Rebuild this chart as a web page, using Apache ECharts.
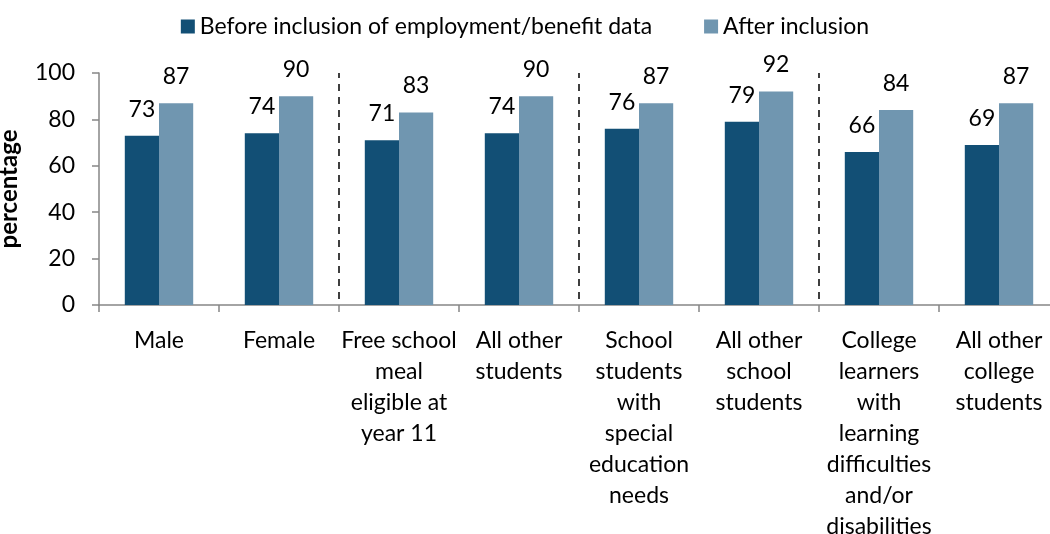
<!DOCTYPE html>
<html>
<head>
<meta charset="utf-8">
<script src="https://cdn.jsdelivr.net/npm/echarts@6/dist/echarts.min.js"></script>
<style>
  html, body { margin: 0; padding: 0; background: #fff; }
  #chart { width: 1050px; height: 534px; }
</style>
</head>
<body>
<div id="chart"></div>
<script>
const categories = [
  'Male',
  'Female',
  'Free school\nmeal\neligible at\nyear 11',
  'All other\nstudents',
  'School\nstudents\nwith\nspecial\neducation\nneeds',
  'All other\nschool\nstudents',
  'College\nlearners\nwith\nlearning\ndifficulties\nand/or\ndisabilities',
  'All other\ncollege\nstudents'
];
const beforeValues = [73, 74, 71, 74, 76, 79, 66, 69];
const afterValues = [87, 90, 83, 90, 87, 92, 84, 87];
const yTicks = [0, 20, 40, 60, 80, 100];
// dashed separators sit on the left boundary of these categories
const groupStarts = [2, 4, 6];

const font = 'Lato, "Open Sans", sans-serif';
const chart = echarts.init(document.getElementById('chart'));

const labelStyle = {
  show: true,
  position: 'top',
  distance: 15,
  color: '#000',
  fontSize: 23,
  fontFamily: font
};

chart.setOption({
  color: ['#124f75', '#7096b0'],
  textStyle: { fontFamily: font },
  legend: {
    top: 10,
    left: 'center',
    itemWidth: 14,
    itemHeight: 14,
    itemGap: 52,
    textStyle: { fontSize: 23, color: '#000', fontFamily: font },
    data: [
      { name: 'Before inclusion of employment/benefit data', icon: 'rect' },
      { name: 'After inclusion', icon: 'rect' }
    ]
  },
  grid: {
    left: 99,
    right: -9,
    top: 73,
    bottom: 229,
    containLabel: false,
    outerBoundsMode: 'none'
  },
  xAxis: {
    type: 'category',
    data: categories,
    axisLine: { lineStyle: { color: '#868686', width: 1.5 } },
    axisTick: { show: true, length: 7, lineStyle: { color: '#868686', width: 1.5 } },
    axisLabel: {
      interval: 0,
      margin: 20,
      color: '#000',
      fontSize: 23,
      lineHeight: 31,
      fontFamily: font
    },
    splitLine: {
      show: true,
      interval: function (index) { return groupStarts.indexOf(index) !== -1; },
      lineStyle: { color: '#000', type: [7, 6], dashOffset: 2, width: 1.5 }
    }
  },
  yAxis: {
    type: 'value',
    min: yTicks[0],
    max: yTicks[yTicks.length - 1],
    interval: yTicks[1] - yTicks[0],
    name: 'percentage',
    nameLocation: 'middle',
    nameGap: 78,
    nameRotate: 90,
    nameTextStyle: { fontSize: 24, fontWeight: 'bold', color: '#000', fontFamily: font },
    axisLine: { show: true, lineStyle: { color: '#868686', width: 1.5 } },
    axisTick: { show: true, length: 7, lineStyle: { color: '#868686', width: 1.5 } },
    axisLabel: { color: '#000', fontSize: 23, margin: 24, fontFamily: font },
    splitLine: { show: false }
  },
  series: [
    {
      name: 'Before inclusion of employment/benefit data',
      type: 'bar',
      data: beforeValues,
      barGap: '0%',
      barCategoryGap: '43%',
      label: labelStyle
    },
    {
      name: 'After inclusion',
      type: 'bar',
      data: afterValues,
      barGap: '0%',
      barCategoryGap: '43%',
      label: labelStyle
    }
  ]
});
</script>
</body>
</html>
